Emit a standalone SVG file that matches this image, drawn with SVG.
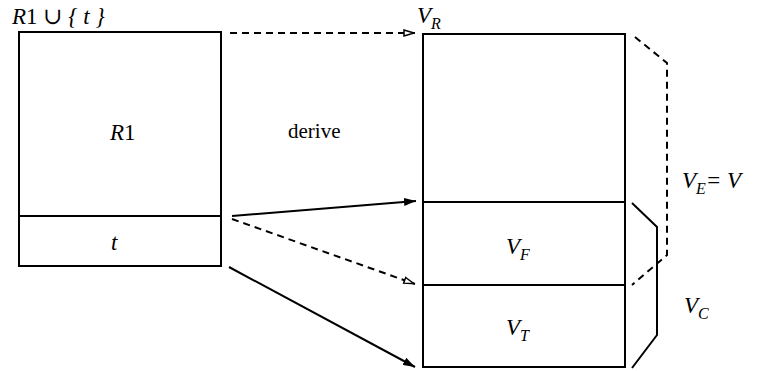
<svg xmlns="http://www.w3.org/2000/svg" width="758" height="371" viewBox="0 0 758 371">
<style>
.box{fill:none;stroke:#000;stroke-width:2}
.ln{fill:none;stroke:#000;stroke-width:2}
.ds{fill:none;stroke:#000;stroke-width:2;stroke-dasharray:7,5}
.t{font-family:"Liberation Serif","DejaVu Serif",serif;font-size:23px;font-style:italic;fill:#000}
.s{font-family:"Liberation Serif","DejaVu Serif",serif;font-size:16px;font-style:italic;fill:#000}
.n{font-family:"Liberation Serif","DejaVu Serif",serif;font-size:21px;fill:#000}
</style>
<defs>
<marker id="a" viewBox="0 0 12 8" refX="12" refY="4" markerWidth="12" markerHeight="8" markerUnits="userSpaceOnUse" orient="auto"><path d="M0,0 L12,4 L0,8 Z" fill="#000"/></marker>
<marker id="o" viewBox="0 0 12 8" refX="12" refY="4" markerWidth="12" markerHeight="8" markerUnits="userSpaceOnUse" orient="auto"><path d="M1,1 L11,4 L1,7 Z" fill="#fff" stroke="#000" stroke-width="1.5"/></marker>
</defs>
<g id="left">
<rect class="box" x="19" y="32" width="202" height="234"/>
<line class="ln" x1="19" y1="216" x2="221" y2="216"/>
<text class="t" x="12" y="24">R<tspan font-style="normal">1</tspan> ∪ { <tspan>t</tspan> }</text>
<text class="t" x="110" y="140">R<tspan font-style="normal">1</tspan></text>
<text class="t" x="111" y="250">t</text>
</g>
<g id="right">
<rect class="box" x="423" y="34" width="202" height="333"/>
<line class="ln" x1="423" y1="202" x2="625" y2="202"/>
<line class="ln" x1="423" y1="285" x2="625" y2="285"/>
<text class="t" x="417" y="23">V<tspan class="s" dy="6">R</tspan></text>
<text class="t" x="506" y="254">V<tspan class="s" dy="6">F</tspan></text>
<text class="t" x="506" y="335">V<tspan class="s" dy="6">T</tspan></text>
</g>
<g id="brackets">
<path class="ds" d="M635,37 L667,63 L667,255 L632,285"/>
<path class="ln" d="M632,203 L657,227 L657,335 L632,368"/>
<text class="t" x="682" y="188">V<tspan class="s" dy="6">E</tspan><tspan dy="-6">= V</tspan></text>
<text class="t" x="684" y="313">V<tspan class="s" dy="6">C</tspan></text>
</g>
<g id="connectors">
<line class="ds" x1="230" y1="33" x2="415" y2="33" marker-end="url(#o)"/>
<line class="ln" x1="232" y1="216" x2="416" y2="201" marker-end="url(#a)"/>
<line class="ds" x1="232" y1="219" x2="415" y2="284" marker-end="url(#o)"/>
<line class="ln" x1="229" y1="267" x2="415" y2="367" marker-end="url(#a)"/>
<text class="n" x="288" y="138">derive</text>
</g>
</svg>
